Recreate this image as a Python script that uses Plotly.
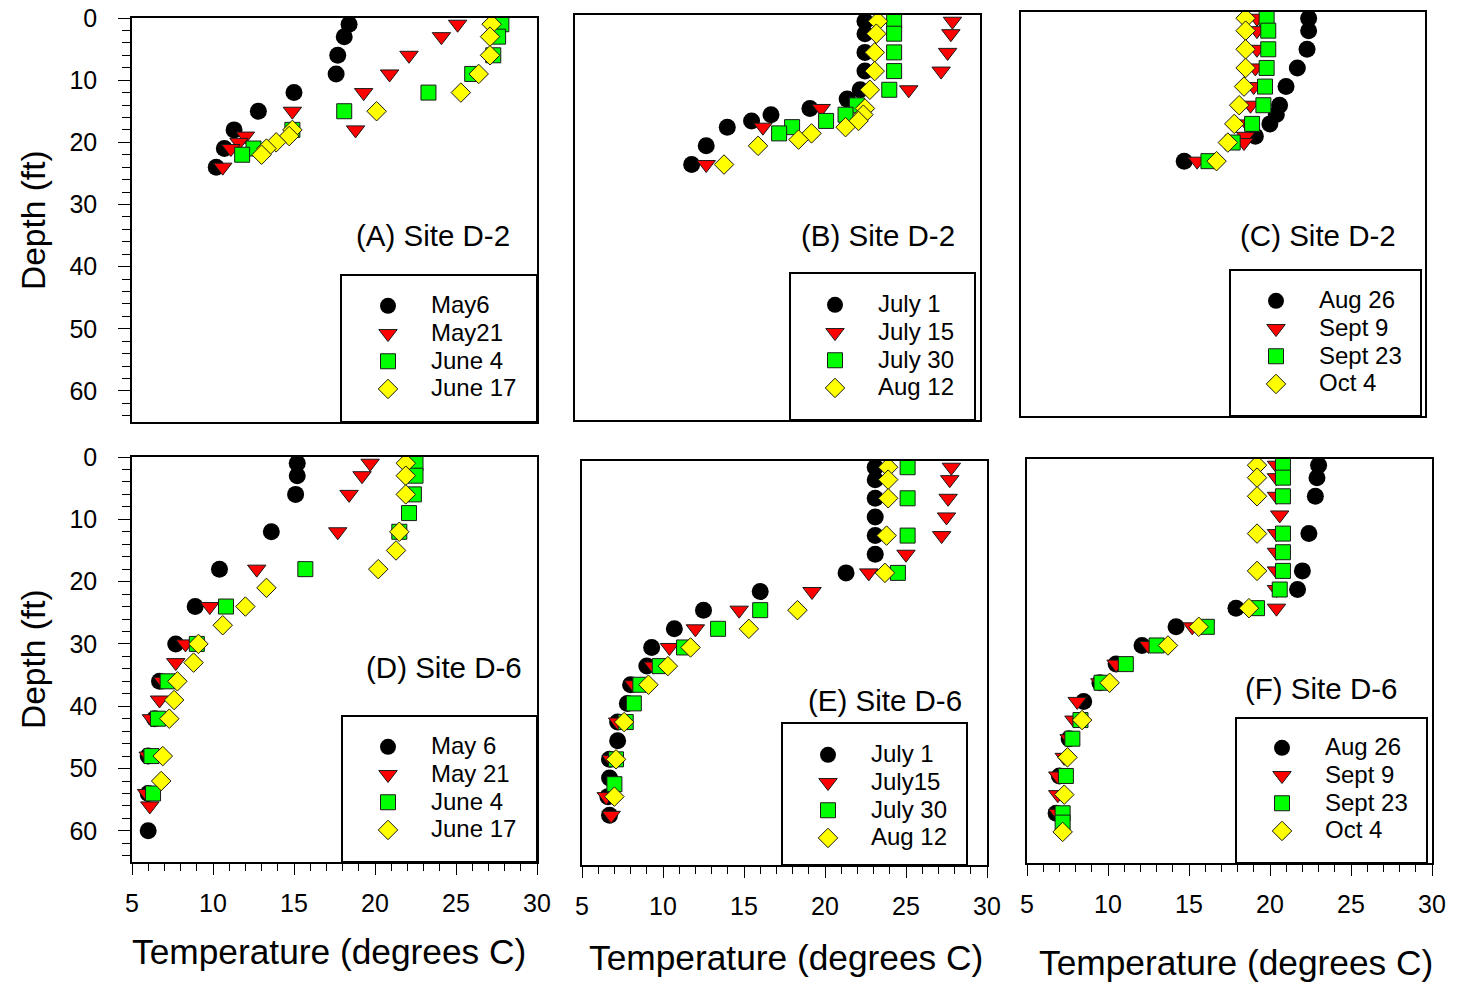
import plotly.graph_objects as go

# ---------------------------------------------------------------------------
# Temperature profiles: depth below surface (ft) and water temperature (deg C)
# ---------------------------------------------------------------------------

# (A) Site D-2, spring
a_labels = ["May6", "May21", "June 4", "June 17"]
a_may6_depth = [1, 3, 6, 9, 12, 15, 18, 21, 24]
a_may6_temp = [18.4, 18.1, 17.7, 17.6, 15.0, 12.8, 11.3, 10.7, 10.2]
a_may21_depth = [1, 3, 6, 9, 12, 15, 18, 19, 20, 21, 24]
a_may21_temp = [25.1, 24.1, 22.1, 20.9, 19.3, 14.9, 18.8, 12.0, 11.6, 11.1, 10.6]
a_jun4_depth = [1, 3, 6, 9, 12, 15, 18, 21, 22]
a_jun4_temp = [27.8, 27.6, 27.3, 26.0, 23.3, 18.1, 14.9, 12.5, 11.8]
a_jun17_depth = [1, 3, 6, 9, 12, 15, 18, 19, 20, 21, 22]
a_jun17_temp = [27.2, 27.1, 27.1, 26.4, 25.3, 20.1, 14.9, 14.7, 13.9, 13.3, 13.0]

# (B) Site D-2, summer
b_labels = ["July 1", "July 15", "July 30", "Aug 12"]
b_jul1_depth = [1, 3, 6, 9, 12, 13.5, 15, 16, 17, 18, 21, 24]
b_jul1_temp = [22.9, 22.9, 22.9, 22.9, 22.6, 21.8, 19.5, 17.1, 15.9, 14.4, 13.1, 12.2]
b_jul15_depth = [1, 3, 6, 9, 12, 15, 18, 24]
b_jul15_temp = [28.3, 28.2, 28.0, 27.6, 25.6, 20.2, 16.6, 13.1]
b_jul30_depth = [1, 3, 6, 9, 12, 14.5, 16, 17, 18, 19]
b_jul30_temp = [24.7, 24.7, 24.7, 24.7, 24.4, 22.4, 21.7, 20.5, 18.4, 17.6]
b_aug12_depth = [1, 3, 6, 9, 12, 15, 16, 17, 18, 19, 20, 21, 24]
b_aug12_temp = [23.7, 23.6, 23.5, 23.5, 23.2, 22.9, 22.8, 22.5, 21.7, 19.6, 18.8, 16.3, 14.2]

# (C) Site D-2, late summer / autumn
c_labels = ["Aug 26", "Sept 9", "Sept 23", "Oct 4"]
c_aug26_depth = [1, 3, 6, 9, 12, 15, 16.5, 18, 20, 24]
c_aug26_temp = [22.8, 22.8, 22.7, 22.1, 21.4, 21.0, 20.8, 20.4, 19.5, 15.1]
c_sep9_depth = [1, 3, 6, 9, 12, 15, 18, 20, 21, 24]
c_sep9_temp = [19.6, 19.6, 19.6, 19.5, 19.4, 19.2, 19.0, 18.9, 18.8, 15.9]
c_sep23_depth = [1, 3, 6, 9, 12, 15, 18, 21, 24]
c_sep23_temp = [20.2, 20.3, 20.3, 20.2, 20.1, 20.0, 19.3, 18.1, 16.6]
c_oct4_depth = [1, 3, 6, 9, 12, 15, 18, 21, 24]
c_oct4_temp = [18.9, 18.9, 18.9, 18.9, 18.8, 18.5, 18.2, 17.8, 17.1]

# (D) Site D-6, spring
d_labels = ["May 6", "May 21", "June 4", "June 17"]
d_may6_depth = [1, 3, 6, 12, 18, 24, 30, 36, 42, 48, 54, 60]
d_may6_temp = [15.2, 15.2, 15.1, 13.6, 10.4, 8.9, 7.7, 6.7, 6.4, 6.0, 6.0, 6.0]
d_may21_depth = [1, 3, 6, 12, 18, 24, 30, 33, 36, 39, 42, 48, 54, 56]
d_may21_temp = [19.7, 19.2, 18.4, 17.7, 12.7, 9.8, 8.3, 7.7, 6.9, 6.7, 6.2, 6.0, 5.9, 6.1]
d_jun4_depth = [1, 3, 6, 9, 12, 18, 24, 30, 36, 42, 48, 54]
d_jun4_temp = [22.5, 22.5, 22.4, 22.1, 21.5, 15.7, 10.8, 9.0, 7.2, 6.6, 6.2, 6.3]
d_jun17_depth = [1, 3, 6, 12, 15, 18, 21, 24, 27, 30, 33, 36, 39, 42, 48, 52]
d_jun17_temp = [21.9, 21.9, 21.9, 21.5, 21.3, 20.2, 13.3, 12.0, 10.6, 9.1, 8.8, 7.8, 7.6, 7.3, 6.9, 6.8]

# (E) Site D-6, summer
e_labels = ["July 1", "July15", "July 30", "Aug 12"]
e_jul1_depth = [1, 3, 6, 9, 12, 15, 18, 21, 24, 27, 30, 33, 36, 39, 42, 45, 48, 51, 54, 57]
e_jul1_temp = [23.1, 23.1, 23.1, 23.1, 23.1, 23.1, 21.3, 16.0, 12.5, 10.7,
               9.3, 9.0, 8.0, 7.8, 7.2, 7.2, 6.7, 6.7, 6.6, 6.7]
e_jul15_depth = [1, 3, 6, 9, 12, 15, 18, 21, 24, 27, 30, 33, 36, 42, 48, 54, 57]
e_jul15_temp = [27.8, 27.7, 27.6, 27.5, 27.2, 25.0, 22.7, 19.2, 14.7, 12.0,
                10.4, 9.4, 8.2, 7.2, 6.8, 6.5, 6.8]
e_jul30_depth = [1, 6, 12, 18, 24, 27, 30, 33, 36, 39, 42, 48, 52]
e_jul30_temp = [25.1, 25.1, 25.1, 24.5, 16.0, 13.4, 11.3, 9.8, 8.6, 8.2, 7.7, 7.1, 7.0]
e_aug12_depth = [1, 3, 6, 12, 18, 24, 27, 30, 33, 36, 42, 48, 54]
e_aug12_temp = [23.9, 23.9, 23.9, 23.8, 23.7, 18.3, 15.3, 11.7, 10.3, 9.1, 7.6, 7.1, 7.0]

# (F) Site D-6, late summer / autumn
f_labels = ["Aug 26", "Sept 9", "Sept 23", "Oct 4"]
f_aug26_depth = [1, 3, 6, 12, 18, 21, 24, 27, 30, 33, 36, 39, 45, 51, 57]
f_aug26_temp = [23.0, 22.9, 22.8, 22.4, 22.0, 21.7, 17.9, 14.2, 12.1, 10.5, 9.5, 8.5, 7.6, 7.0, 6.8]
f_sep9_depth = [1, 3, 6, 9, 12, 15, 18, 21, 24, 27, 30, 33, 36, 39, 42, 45, 48, 51, 54, 57]
f_sep9_temp = [20.4, 20.4, 20.4, 20.6, 20.4, 20.4, 20.4, 20.4, 20.4, 15.2,
               12.5, 10.5, 9.5, 8.1, 7.9, 7.6, 7.3, 6.9, 6.9, 6.9]
f_sep23_depth = [1, 3, 6, 12, 15, 18, 21, 24, 27, 30, 33, 36, 42, 45, 51, 57, 58.5]
f_sep23_temp = [20.8, 20.8, 20.8, 20.8, 20.8, 20.8, 20.6, 19.2, 16.1, 13.0,
                11.1, 9.6, 8.3, 7.8, 7.4, 7.2, 7.2]
f_oct4_depth = [1, 3, 6, 12, 18, 24, 27, 30, 36, 42, 48, 54, 60]
f_oct4_temp = [19.2, 19.2, 19.2, 19.2, 19.2, 18.7, 15.6, 13.7, 10.1, 8.4, 7.5, 7.3, 7.2]

# ---------------------------------------------------------------------------
# Figure layout
# ---------------------------------------------------------------------------
W, H = 1457, 983
FONT = "Liberation Sans, Arial, sans-serif"

# marker style for the 1st..4th survey date of every panel
SERIES_STYLE = [
    dict(symbol="circle", size=17, color="#000000", line=dict(width=0)),
    dict(symbol="triangle-down", size=16, color="#FF0000", line=dict(width=1, color="#1a1a1a")),
    dict(symbol="square", size=15, color="#00FF00", line=dict(width=1, color="#1a1a1a")),
    dict(symbol="diamond", size=15, color="#FFFF00", line=dict(width=1, color="#1a1a1a")),
]

panels = [
    dict(title="(A) Site D-2", labels=a_labels,
         series=[(a_may6_depth, a_may6_temp), (a_may21_depth, a_may21_temp),
                 (a_jun4_depth, a_jun4_temp), (a_jun17_depth, a_jun17_temp)],
         frame=(132, 18, 537, 422), box=(341, 275, 537, 422),
         legend_at=(345, 287), label_at=(512, 235), yticks=True, xticks=False),
    dict(title="(B) Site D-2", labels=b_labels,
         series=[(b_jul1_depth, b_jul1_temp), (b_jul15_depth, b_jul15_temp),
                 (b_jul30_depth, b_jul30_temp), (b_aug12_depth, b_aug12_temp)],
         frame=(575, 15, 980, 420), box=(790, 273, 975, 420),
         legend_at=(792, 286), label_at=(957, 235), yticks=False, xticks=False),
    dict(title="(C) Site D-2", labels=c_labels,
         series=[(c_aug26_depth, c_aug26_temp), (c_sep9_depth, c_sep9_temp),
                 (c_sep23_depth, c_sep23_temp), (c_oct4_depth, c_oct4_temp)],
         frame=(1021, 12, 1425, 416), box=(1230, 270, 1421, 416),
         legend_at=(1233, 282), label_at=(1398, 235), yticks=False, xticks=False),
    dict(title="(D) Site D-6", labels=d_labels,
         series=[(d_may6_depth, d_may6_temp), (d_may21_depth, d_may21_temp),
                 (d_jun4_depth, d_jun4_temp), (d_jun17_depth, d_jun17_temp)],
         frame=(132, 457, 537, 862), box=(342, 716, 537, 862),
         legend_at=(345, 728), label_at=(524, 667), yticks=True, xticks=True),
    dict(title="(E) Site D-6", labels=e_labels,
         series=[(e_jul1_depth, e_jul1_temp), (e_jul15_depth, e_jul15_temp),
                 (e_jul30_depth, e_jul30_temp), (e_aug12_depth, e_aug12_temp)],
         frame=(582, 461, 987, 865), box=(782, 723, 967, 865),
         legend_at=(785, 736), label_at=(964, 700), yticks=False, xticks=True),
    dict(title="(F) Site D-6", labels=f_labels,
         series=[(f_aug26_depth, f_aug26_temp), (f_sep9_depth, f_sep9_temp),
                 (f_sep23_depth, f_sep23_temp), (f_oct4_depth, f_oct4_temp)],
         frame=(1027, 459, 1432, 863), box=(1236, 718, 1427, 863),
         legend_at=(1239, 729), label_at=(1399, 688), yticks=False, xticks=True),
]

fig = go.Figure()
layout = dict(
    width=W, height=H, margin=dict(l=0, r=0, t=0, b=0, autoexpand=False),
    paper_bgcolor="white", plot_bgcolor="white",
    font=dict(family=FONT, color="black"),
    showlegend=True, shapes=[], annotations=[],
)

axis_common = dict(showline=True, linecolor="black", linewidth=1.5, mirror=True,
                   showgrid=False, zeroline=False, automargin=False)

for i, p in enumerate(panels, start=1):
    sfx = "" if i == 1 else str(i)
    xref, yref, leg = "x" + sfx, "y" + sfx, "legend" + sfx
    left, top, right, bottom = p["frame"]

    for label, (depth, temp), style in zip(p["labels"], p["series"], SERIES_STYLE):
        fig.add_trace(go.Scatter(
            x=temp, y=depth, mode="markers",
            name=f'<span style="font-size:24px">{label}</span>',
            marker=style, xaxis=xref, yaxis=yref, legend=leg,
            hovertemplate=f"{label}<br>%{{x}} °C, %{{y}} ft<extra></extra>",
        ))

    xaxis = dict(axis_common, domain=[left / W, right / W], anchor=yref, range=[5, 30])
    if p["xticks"]:
        xaxis.update(ticks="outside", tickmode="linear", tick0=5, dtick=5,
                     ticklen=11, tickwidth=1.2, tickcolor="black",
                     minor=dict(ticks="outside", dtick=1, ticklen=7, tickwidth=1, tickcolor="black"),
                     tickfont=dict(size=25, family=FONT, color="black"),
                     ticklabelstandoff=7)
    else:
        xaxis.update(ticks="", showticklabels=False)

    yaxis = dict(axis_common, domain=[1 - bottom / H, 1 - top / H], anchor=xref, range=[65, 0])
    if p["yticks"]:
        yaxis.update(ticks="outside", tickmode="linear", tick0=0, dtick=10,
                     ticklen=12, tickwidth=1.2, tickcolor="black",
                     minor=dict(ticks="outside", dtick=2, ticklen=8, tickwidth=1, tickcolor="black"),
                     tickfont=dict(size=25, family=FONT, color="black"),
                     ticklabelstandoff=16)
    else:
        yaxis.update(ticks="", showticklabels=False)

    layout["xaxis" + sfx] = xaxis
    layout["yaxis" + sfx] = yaxis

    lx, ly = p["legend_at"]
    layout[leg] = dict(x=lx / W, y=1 - ly / H, xanchor="left", yanchor="top",
                       bgcolor="rgba(0,0,0,0)", borderwidth=0, itemwidth=76,
                       font=dict(size=19, family=FONT, color="black"),
                       tracegroupgap=0)

    bx0, by0, bx1, by1 = p["box"]
    layout["shapes"].append(dict(type="rect", xref="paper", yref="paper",
                                 x0=bx0 / W, x1=bx1 / W, y0=1 - by1 / H, y1=1 - by0 / H,
                                 line=dict(color="black", width=2), layer="below"))

    tx, ty = p["label_at"]
    layout["annotations"].append(dict(text=p["title"], xref="paper", yref="paper",
                                      x=tx / W, y=1 - ty / H, xanchor="right", yanchor="middle",
                                      showarrow=False, font=dict(size=29.5, family=FONT, color="black")))

# axis titles
for cx, cy in [(329, 951), (786, 957), (1236, 962)]:
    layout["annotations"].append(dict(text="Temperature (degrees C)", xref="paper", yref="paper",
                                      x=cx / W, y=1 - cy / H, xanchor="center", yanchor="middle",
                                      showarrow=False, font=dict(size=35.3, family=FONT, color="black")))
for cy in [220, 659]:
    layout["annotations"].append(dict(text="Depth (ft)", xref="paper", yref="paper", textangle=-90,
                                      x=33 / W, y=1 - cy / H, xanchor="center", yanchor="middle",
                                      showarrow=False, font=dict(size=33.5, family=FONT, color="black")))

fig.update_layout(**layout)
fig.write_html("out.html")
